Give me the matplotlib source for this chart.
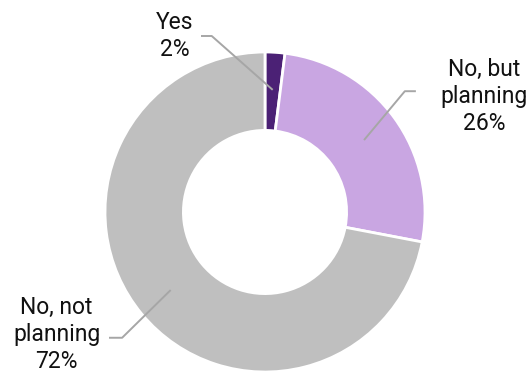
import matplotlib
matplotlib.use("Agg")
import matplotlib.pyplot as plt
import numpy as np

categories = ["Yes", "No, but\nplanning", "No, not\nplanning"]
values = [2, 26, 72]
colors = ["#4B2175", "#C9A6E2", "#BFBFBF"]

plt.rcParams['font.family'] = ['Roboto', 'DejaVu Sans']

W, H = 531, 374
fig = plt.figure(figsize=(W / 100, H / 100), dpi=100)
ax = fig.add_axes([0, 0, 1, 1])

cx, cy, R = 265, 212, 160
wedges, _ = ax.pie(values, colors=colors, startangle=90, counterclock=False,
                   radius=1.0, wedgeprops=dict(width=0.49, edgecolor="white", linewidth=2))
ax.set_xlim(-cx / R, (W - cx) / R)
ax.set_ylim(-(H - cy) / R, cy / R)
ax.set_aspect('auto')
ax.axis('off')

# label layout: knee point, horizontal end, text position
layout = [
    dict(knee=(-0.333, 1.10), end=(-0.40, 1.10), text=(-0.566, 1.10)),
    dict(knee=(0.874, 0.755), end=(0.943, 0.755), text=(1.371, 0.72)),
    dict(knee=(-0.893, -0.786), end=(-0.975, -0.786), text=(-1.302, -0.765)),
]

for w, cat, v, lay in zip(wedges, categories, values, layout):
    ang = np.deg2rad((w.theta1 + w.theta2) / 2)
    r = 0.765
    p = (r * np.cos(ang), r * np.sin(ang))
    ax.plot([p[0], lay["knee"][0], lay["end"][0]], [p[1], lay["knee"][1], lay["end"][1]],
            color="#A6A6A6", lw=1.4, solid_capstyle="butt", zorder=5)
    ax.text(lay["text"][0], lay["text"][1], f"{cat}\n{v}%", ha="center", va="center",
            fontsize=16.5, color="#111111", linespacing=1.22)

fig.savefig("out.png", dpi=100)
